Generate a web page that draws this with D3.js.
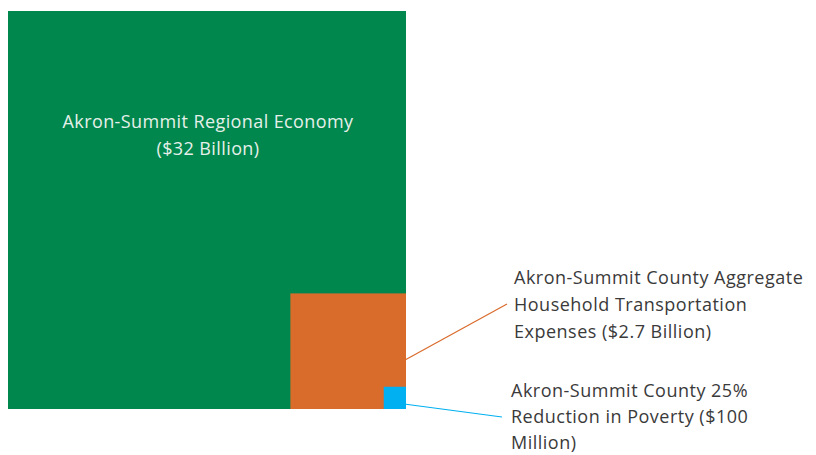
<!DOCTYPE html>
<html>
<head>
<meta charset="utf-8">
<script src="https://cdn.jsdelivr.net/npm/d3@7"></script>
<style>
  body { margin: 0; background: #fff; }
  svg { display: block; font-family: "Open Sans", sans-serif; }
</style>
</head>
<body>
<div id="chart"></div>
<script>
// values in $ billions, nested squares anchored bottom-right
const names = ["economy", "transport", "poverty"];
const values = [32, 2.7, 0.1];
const colors = ["#00874e", "#d96b2b", "#00b0f0"];
const labels = [
  ["Akron-Summit Regional Economy", "($32 Billion)"],
  ["Akron-Summit County Aggregate", "Household Transportation", "Expenses ($2.7 Billion)"],
  ["Akron-Summit County 25%", "Reduction in Poverty ($100", "Million)"]
];

const width = 816, height = 455;
const x0 = 8, y0 = 11, big = 398;

const svg = d3.select("#chart").append("svg")
  .attr("width", width).attr("height", height);

// side length scales with sqrt of value so areas compare
const side = d3.scaleSqrt().domain([0, values[0]]).range([0, big]);

const right = x0 + big, bottom = y0 + big;
const data = values.map((v, i) => ({ name: names[i], value: v, s: side(v), color: colors[i], lines: labels[i] }));

svg.selectAll("rect").data(data).join("rect")
  .attr("x", d => right - d.s)
  .attr("y", d => bottom - d.s)
  .attr("width", d => d.s)
  .attr("height", d => d.s)
  .attr("fill", d => d.color);

// label inside the big square
const main = svg.append("text")
  .attr("text-anchor", "middle")
  .attr("fill", "#e6f0e9")
  .style("font-size", "18px")
  .style("letter-spacing", "0.4px");
main.selectAll("tspan").data(data[0].lines).join("tspan")
  .attr("x", x0 + big / 2 + 1)
  .attr("y", (d, i) => 128 + i * 27)
  .text(d => d);

// callout labels with leader lines
const callouts = [
  { d: data[1], from: [right - 1, 360], to: [507, 304], tx: 514, ty: 284, step: 27 },
  { d: data[2], from: [right - 2, 404], to: [502, 417], tx: 511, ty: 397, step: 26 }
];

callouts.forEach(c => {
  svg.append("line")
    .attr("x1", c.from[0]).attr("y1", c.from[1])
    .attr("x2", c.to[0]).attr("y2", c.to[1])
    .attr("stroke", c.d.color).attr("stroke-width", 1.2);
  const t = svg.append("text")
    .attr("fill", "#3a3a3a")
    .style("font-size", "18px")
    .style("letter-spacing", "0.5px");
  t.selectAll("tspan").data(c.d.lines).join("tspan")
    .attr("x", c.tx)
    .attr("y", (d, i) => c.ty + i * c.step)
    .text(d => d);
});
</script>
</body>
</html>
